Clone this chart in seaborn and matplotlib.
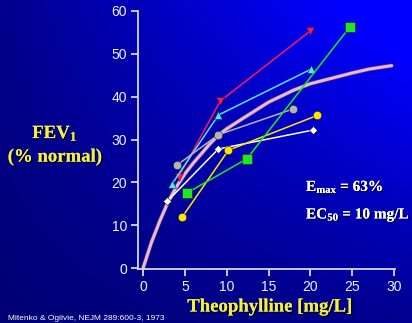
import numpy as np
import pandas as pd
import matplotlib
matplotlib.use("Agg")
import matplotlib.pyplot as plt
import matplotlib.patheffects as pe
import seaborn as sns

# individual patients: theophylline conc [mg/L] vs FEV1 [% normal]
red_x = [4.25, 9.25, 20.0]
red_y = [21.3, 39.0, 55.3]
cyan_x = [3.45, 9.0, 20.1]
cyan_y = [19.6, 35.7, 46.4]
gray_x = [4.1, 9.0, 17.9]
gray_y = [24.1, 31.1, 37.1]
white_x = [2.9, 9.0, 20.3]
white_y = [15.6, 27.8, 32.2]
yellow_x = [4.7, 10.2, 20.8]
yellow_y = [12.0, 27.5, 35.6]
green_x = [5.3, 12.4, 24.7]
green_y = [17.6, 25.5, 56.2]

# fitted Emax curve
curve_x = [0, 1, 2, 3, 4, 5, 6, 8, 9, 10, 12, 15, 18, 20, 22, 25, 27, 29.7]
curve_y = [0, 6, 11, 15.5, 19, 22, 24.5, 29, 31, 32.5, 35, 38.7, 41.5, 43, 44, 45.5, 46.4, 47.2]

x_ticks = [0, 5, 10, 15, 20, 25, 30]
y_ticks = [0, 10, 20, 30, 40, 50, 60]

sns.set_style("ticks")
plt.rcParams["mathtext.fontset"] = "custom"
plt.rcParams["mathtext.rm"] = "Liberation Serif:bold"
plt.rcParams["mathtext.it"] = "Liberation Serif:bold"
plt.rcParams["mathtext.bf"] = "Liberation Serif:bold"

fig = plt.figure(figsize=(4.12, 3.23), dpi=100)

# blue gradient background
bg = fig.add_axes([0, 0, 1, 1], zorder=0)
gx, gy = np.meshgrid(np.linspace(0, 1, 200), np.linspace(0, 1, 160))
inten = np.clip(0.45 + 0.55 * gx * (1 - 0.8 * gy) + 0.1 * (1 - gy), 0, 1)
img = np.zeros(gx.shape + (3,))
img[..., 2] = inten
bg.imshow(img, aspect="auto", extent=[0, 1, 0, 1], interpolation="bilinear")
bg.axis("off")

ax = fig.add_axes([138 / 412, 1 - 269.3 / 323, 257 / 412, 258.6 / 323], zorder=1)
ax.patch.set_alpha(0)

shadow = [pe.withSimplePatchShadow(offset=(1, -1), shadow_rgbFace="black", alpha=0.7), pe.Normal()]

sns.lineplot(x=curve_x, y=curve_y, ax=ax, color="#e6b8dc", lw=2.2, sort=False,
             path_effects=[pe.Stroke(linewidth=3.2, foreground="#503060"), pe.Normal()], zorder=2)

series = [
    (red_x, red_y, "#ff1464", "v", 6),
    (cyan_x, cyan_y, "#50e6ff", "^", 6),
    (gray_x, gray_y, "#b4b4b4", "o", 6),
    (white_x, white_y, "#ffffff", "D", 4),
    (yellow_x, yellow_y, "#ffe600", "o", 6),
    (green_x, green_y, "#22e622", "s", 7),
]
for xs, ys, col, mk, ms in series:
    d = pd.DataFrame({"conc": xs, "fev": ys})
    sns.lineplot(data=d, x="conc", y="fev", ax=ax, color=col, lw=1.1, marker=mk,
                 markersize=ms, markeredgecolor="#202020", markeredgewidth=0.4, zorder=3)

ax.set_xlim(-0.6, 30.1)
ax.set_ylim(-0.23, 60)
ax.set_xticks(x_ticks)
ax.set_yticks(y_ticks)
for s in ["top", "right"]:
    ax.spines[s].set_visible(False)
for s in ["left", "bottom"]:
    ax.spines[s].set_color("#d8d8e0")
    ax.spines[s].set_linewidth(1.3)
ax.tick_params(colors="#d8d8e0", length=5, width=1.3, labelsize=10, labelcolor="#f0f0f8", pad=3)
for lab in ax.get_xticklabels() + ax.get_yticklabels():
    lab.set_fontfamily("Liberation Sans")
ax.set_xlabel("")
ax.set_ylabel("")

yel = "#f4f040"
serif = dict(family="Liberation Serif", weight="bold", path_effects=shadow)
fig.text(270 / 412, 1 - 307 / 323, "Theophylline [mg/L]", color=yel, fontsize=13.5,
         ha="center", va="center", **serif)
fig.text(55 / 412, 1 - 133 / 323, "FEV$_1$", color=yel, fontsize=13.5,
         ha="center", va="center", **serif)
fig.text(55 / 412, 1 - 157 / 323, "(% normal)", color=yel, fontsize=13.5,
         ha="center", va="center", **serif)

fig.text(306 / 412, 1 - 187 / 323, "E$_{max}$ = 63%", color="white", fontsize=11,
         ha="left", va="center", **serif)
fig.text(306 / 412, 1 - 215 / 323, "EC$_{50}$ = 10 mg/L", color="white", fontsize=11,
         ha="left", va="center", **serif)

# source line (mostly cut off in the original slide)
fig.text(8 / 412, 1 - 321.5 / 323, "Mitenko & Ogilvie, NEJM 289:600-3, 1973", color="white",
         fontsize=6, family="Liberation Sans", ha="left", va="bottom")

fig.savefig("out.png", dpi=100)
